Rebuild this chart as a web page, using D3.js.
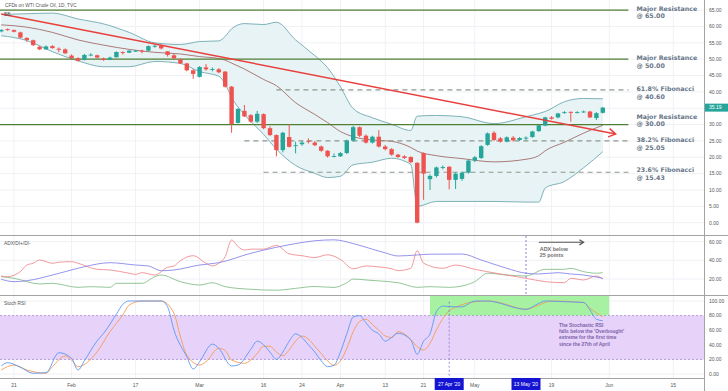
<!DOCTYPE html>
<html>
<head>
<meta charset="utf-8">
<script src="https://cdn.jsdelivr.net/npm/d3@7"></script>
<style>
  html, body { margin: 0; padding: 0; background: #fff; }
  svg { display: block; font-family: "Liberation Sans", Arial, sans-serif; }
</style>
</head>
<body>
<svg id="chart" width="728" height="391"></svg>
<script>
// ---- data ----
const candleDays = ["Jan 17","Jan 20","Jan 21","Jan 22","Jan 23","Jan 24","Jan 27","Jan 28","Jan 29","Jan 30","Jan 31",
  "Feb 3","Feb 4","Feb 5","Feb 6","Feb 7","Feb 10","Feb 11","Feb 12","Feb 13","Feb 14","Feb 17","Feb 18","Feb 19","Feb 20","Feb 21","Feb 24","Feb 25","Feb 26","Feb 27","Feb 28",
  "Mar 2","Mar 3","Mar 4","Mar 5","Mar 6","Mar 9","Mar 10","Mar 11","Mar 12","Mar 13","Mar 16","Mar 17","Mar 18","Mar 19","Mar 20","Mar 23","Mar 24","Mar 25","Mar 26","Mar 27","Mar 30","Mar 31",
  "Apr 1","Apr 2","Apr 3","Apr 6","Apr 7","Apr 8","Apr 9","Apr 13","Apr 14","Apr 15","Apr 16","Apr 17","Apr 20","Apr 21","Apr 22","Apr 23","Apr 24","Apr 27","Apr 28","Apr 29","Apr 30",
  "May 1","May 4","May 5","May 6","May 7","May 8","May 11","May 12","May 13","May 14","May 15","May 18","May 19","May 20","May 21","May 22","May 25","May 26","May 27","May 28","May 29"];
const futureDays = ["Jun 1","Jun 2","Jun 3","Jun 4","Jun 5","Jun 8","Jun 9","Jun 10","Jun 11","Jun 12","Jun 15","Jun 16","Jun 17","Jun 18","Jun 19"];

const open = [58.5,59.2,58.9,58.2,56.5,55.8,53.8,53.0,54.0,53.2,53.0,
  51.1,50.3,49.8,51.3,51.2,50.2,49.9,50.6,52.2,52.0,52.5,52.6,52.6,54.0,54.1,52.4,51.2,49.9,48.7,46.6,
  44.6,47.5,46.9,46.9,46.2,41.6,30.5,34.2,32.9,30.9,33.2,28.9,26.8,22.2,26.2,23.6,24.0,25.0,24.5,23.3,22.0,20.3,
  20.3,21.3,25.1,29.2,26.6,24.5,26.3,23.3,22.5,20.8,20.3,20.1,18.3,21.3,13.3,14.3,16.9,17.1,13.1,13.4,15.3,
  19.0,19.8,23.8,27.5,25.8,24.8,26.0,25.3,25.9,26.2,28.0,29.7,32.2,32.2,33.7,33.9,33.7,34.0,34.0,32.0,33.6];
const high = [59.1,59.4,59.1,58.4,56.7,56.0,54.1,54.2,54.3,53.6,53.3,
  51.5,50.6,51.6,51.8,51.4,50.5,50.8,52.4,52.4,52.8,52.8,52.9,54.2,54.6,54.5,52.5,51.6,50.3,48.9,47.0,
  47.9,48.5,47.5,47.3,46.4,41.8,35.0,36.0,33.2,34.2,33.4,29.5,27.0,27.8,30.2,24.8,25.0,25.8,25.0,23.6,22.2,21.2,
  21.6,25.4,29.6,29.4,27.0,26.6,28.3,23.8,22.8,21.1,20.6,20.3,18.5,21.5,14.8,17.2,17.5,17.3,15.3,15.6,19.3,
  20.4,23.7,27.6,28.0,26.2,26.4,26.5,26.2,26.4,28.1,30.0,32.4,32.6,33.6,34.1,34.0,34.1,34.3,34.2,33.8,35.4];
const low = [58.2,58.7,58.2,56.4,55.3,54.0,52.8,52.9,53.2,52.1,51.6,
  49.9,49.3,49.6,50.9,50.2,49.5,49.7,50.5,51.4,51.9,52.2,51.8,52.4,53.5,53.0,50.8,49.9,48.5,46.3,44.0,
  44.4,46.5,46.3,45.7,41.3,27.5,30.3,32.3,30.6,30.5,28.6,26.5,20.3,21.5,23.0,21.2,23.5,24.2,23.4,21.7,19.9,20.0,
  20.1,21.0,24.8,26.2,24.2,24.2,23.0,22.1,20.5,19.8,19.5,18.2,-0.2,7.0,10.0,13.8,16.3,10.2,10.3,12.8,15.0,
  18.5,19.5,23.5,25.0,24.5,24.6,24.8,25.0,25.2,26.0,27.8,29.5,31.5,31.9,33.3,30.9,33.4,33.6,32.0,31.4,33.4];
const close = [59.0,58.9,58.4,56.6,55.9,54.3,53.0,53.9,53.4,52.9,51.8,
  50.3,49.5,51.3,51.4,50.5,49.8,50.5,52.2,52.1,52.6,52.6,52.5,54.0,54.1,53.3,51.3,50.3,48.7,46.6,45.5,
  47.6,46.9,47.0,46.0,41.6,30.2,34.8,32.5,30.9,33.3,28.9,26.8,22.2,27.5,23.2,23.7,24.5,24.9,23.7,22.0,20.3,20.4,
  21.3,25.1,29.2,26.6,24.5,26.3,23.3,22.5,20.8,20.1,19.8,18.5,0.0,15.0,14.3,16.9,17.0,13.1,15.0,15.3,19.0,
  20.0,23.4,27.3,25.3,24.8,26.1,25.2,25.9,26.0,27.9,29.8,32.2,31.8,33.4,33.8,33.6,33.8,34.0,32.2,33.5,35.19];

// Bollinger bands, sampled
const bbDays = ["Jan 17","Jan 23","Jan 29","Feb 4","Feb 10","Feb 14","Feb 20","Feb 26","Mar 2","Mar 5","Mar 6","Mar 9","Mar 11","Mar 16","Mar 18","Mar 23","Mar 26","Mar 30","Apr 1","Apr 3","Apr 8","Apr 14","Apr 17","Apr 20","Apr 23","Apr 29","May 6","May 13","May 15","May 18","May 21","May 26","May 29"];
const bbUpper = [63.7,63.9,64.1,62.3,60.8,58.2,55.0,54.5,55.4,55.6,57.0,59.3,60.9,60.6,61.3,55.9,51.1,47.4,41.6,34.9,32.1,30.1,28.2,32.6,32.8,32.4,30.3,32.4,33.4,34.0,37.0,38.0,37.9];
const bbBasis = [60.5,59.8,58.2,55.9,54.3,53.0,52.1,51.6,50.8,50.2,49.7,48.8,47.0,43.8,41.9,36.7,33.1,30.6,27.9,26.3,25.3,24.9,23.0,21.9,20.5,19.6,18.6,19.4,20.5,22.0,24.6,27.4,29.8];
const bbLower = [57.2,55.7,52.3,49.5,47.7,47.7,49.3,48.7,46.2,44.8,42.4,38.3,33.1,27.0,22.5,17.5,15.1,13.8,14.2,17.7,18.5,19.7,17.8,5.0,6.5,6.5,6.5,6.3,6.3,10.6,12.6,16.8,21.7];

// ADX / DI+ / DI-
const adxLine = [["Jan 17",19.7],["Jan 21",17.2],["Jan 23",18.2],["Jan 29",24.3],["Jan 31",27.9],["Feb 5",33.2],["Feb 11",37.5],["Feb 17",35],["Feb 19",34],["Feb 21",28.9],["Feb 25",29.7],["Mar 2",35],["Mar 5",37.5],["Mar 12",47.6],["Mar 18",54],["Mar 23",58],["Mar 26",61],["Mar 31",62],["Apr 3",58],["Apr 8",52],["Apr 13",48],["Apr 15",44.7],["Apr 20",45.8],["Apr 22",46.6],["Apr 29",46.8],["May 4",40.4],["May 8",31.5],["May 13",26.2],["May 15",25.4],["May 20",26.8],["May 22",25.4],["May 26",24.3],["May 29",20.8]];
const diMinus = [["Jan 17",23.3],["Jan 20",22.5],["Jan 21",24],["Jan 22",28],["Jan 23",35],["Jan 24",36.9],["Jan 27",40.4],["Jan 29",36.9],["Jan 30",38],["Feb 3",38.6],["Feb 4",36.9],["Feb 7",30.4],["Feb 11",29.7],["Feb 14",26.2],["Feb 17",25],["Feb 18",26.8],["Feb 20",24.3],["Feb 24",32.6],["Feb 25",34],["Feb 26",39.7],["Feb 28",45],["Mar 3",36.9],["Mar 4",34],["Mar 5",36.9],["Mar 6",44],["Mar 9",61.8],["Mar 10",54.7],["Mar 11",51.1],["Mar 12",52],["Mar 16",52],["Mar 18",56],["Mar 20",47],["Mar 24",45],["Mar 26",43],["Mar 30",46],["Apr 1",41],["Apr 3",31],["Apr 7",34],["Apr 9",33],["Apr 14",31],["Apr 15",29],["Apr 17",31.5],["Apr 20",50.4],["Apr 21",36.9],["Apr 24",31.5],["Apr 28",35],["May 1",30.4],["May 7",25.4],["May 13",20.8],["May 18",17.2],["May 21",16.1],["May 22",20.8],["May 26",19],["May 28",23.3],["May 29",20]];
const diPlus = [["Jan 17",22.5],["Jan 21",20.8],["Jan 27",14.7],["Jan 29",15.4],["Feb 4",11.1],["Feb 6",11.8],["Feb 11",11.1],["Feb 12",15.4],["Feb 18",15.4],["Feb 20",22.5],["Feb 21",24.3],["Feb 26",17.2],["Mar 2",13.6],["Mar 4",16],["Mar 6",11.8],["Mar 12",9],["Mar 18",8],["Mar 23",10],["Mar 26",12],["Mar 31",11],["Apr 2",16],["Apr 3",20],["Apr 7",19],["Apr 9",18],["Apr 15",16.1],["Apr 20",11.1],["Apr 22",11.8],["Apr 27",11.1],["Apr 29",12.5],["May 1",17.2],["May 5",26.2],["May 8",24.3],["May 13",23.3],["May 18",30.4],["May 21",30.4],["May 22",31.5],["May 26",27.9],["May 28",26.2],["May 29",26.8]];

// Stochastic RSI
const stochK = [["Jan 17",11],["Jan 20",15.5],["Jan 22",9.2],["Jan 24",1],["Jan 28",1.8],["Jan 30",29.2],["Feb 3",21.5],["Feb 4",5.5],["Feb 5",18.2],["Feb 7",45.6],["Feb 10",55.7],["Feb 12",82],["Feb 13",95.5],["Feb 14",100],["Feb 21",100],["Feb 24",92],["Feb 25",60],["Feb 27",23.7],["Feb 28",6.8],["Mar 2",16.9],["Mar 4",41],["Mar 5",35.2],["Mar 9",11],["Mar 10",12.3],["Mar 12",33.8],["Mar 13",45],["Mar 16",40],["Mar 17",30],["Mar 18",20],["Mar 19",30],["Mar 20",45],["Mar 23",55],["Mar 24",50],["Mar 25",40],["Mar 26",30],["Mar 27",18],["Mar 30",10],["Mar 31",12],["Apr 1",30],["Apr 2",55],["Apr 3",78],["Apr 6",80],["Apr 7",70],["Apr 8",60],["Apr 9",55],["Apr 13",45],["Apr 14",50],["Apr 15",55.7],["Apr 17",46.6],["Apr 20",27],["Apr 21",45],["Apr 22",55],["Apr 23",85.4],["Apr 24",93],["Apr 28",92],["Apr 29",92],["May 1",100],["May 5",100],["May 7",96.8],["May 11",91.4],["May 13",88.6],["May 15",96.8],["May 18",100],["May 21",99],["May 26",98],["May 27",87.7],["May 28",75],["May 29",73]];
const stochD = [["Jan 17",5.5],["Jan 21",12.3],["Jan 23",5.5],["Jan 28",1],["Jan 29",10],["Jan 31",24.7],["Feb 3",19.2],["Feb 4",10],["Feb 7",30.6],["Feb 11",58],["Feb 13",80.8],["Feb 14",94.5],["Feb 18",100],["Feb 21",100],["Feb 25",83],["Feb 26",51],["Feb 27",26],["Mar 2",12.3],["Mar 3",16.9],["Mar 5",35.2],["Mar 6",32],["Mar 9",19.2],["Mar 11",14.7],["Mar 12",19.2],["Mar 13",28],["Mar 16",38],["Mar 17",38],["Mar 18",30],["Mar 19",25],["Mar 20",33],["Mar 23",45],["Mar 24",52],["Mar 25",48],["Mar 26",38],["Mar 27",28],["Mar 30",18],["Mar 31",12],["Apr 1",18],["Apr 2",35],["Apr 3",58],["Apr 6",72],["Apr 7",75],["Apr 8",68],["Apr 9",60],["Apr 13",52],["Apr 14",50],["Apr 15",58],["Apr 17",47.5],["Apr 20",37.4],["Apr 21",32.9],["Apr 22",42],["Apr 23",60.3],["Apr 27",86.7],["Apr 28",91.4],["May 1",99],["May 5",100],["May 7",97.7],["May 11",92.2],["May 13",88.6],["May 15",94.5],["May 19",100],["May 26",98],["May 27",90],["May 29",78.5]];

// time axis
const tickDays = ["Jan 21","Feb 3","Feb 17","Mar 2","Mar 16","Mar 24","Apr 1","Apr 13","Apr 21","May 1","May 19","Jun 1","Jun 15"];
const tickLabels = ["21","Feb","17","Mar","16","24","Apr","13","21","May","19","Jun","15"];
const badgeDays = ["Apr 27","May 13"];
const badgeLabels = ["27 Apr '20","13 May '20"];

// annotations
const resistLevels = [65.00, 50.00, 30.00];
const fibLevels = [40.60, 25.05, 15.43];
const fibNames = ["61.8% Fibonacci", "38.2% Fibonacci", "23.6% Fibonacci"];
const fibStartDays = ["Mar 18", "Mar 11", "Mar 16"];
const levelEndDay = "Jun 4";
const trendDays = ["Jan 17", "Jun 2"];
const trendPrices = [63.8, 27.1];
const lastPrice = 35.19;

// ---- layout ----
const plotRight = 704;
const svg = d3.select("#chart");
const calendar = candleDays.concat(futureDays);
const x = d3.scalePoint().domain(calendar).range([1.2, 1.2 + 6.4 * (calendar.length - 1)]);
const yMain = d3.scaleLinear().domain([0, 65]).range([222.7, 10.15]);
const yAdx = d3.scaleLinear().domain([0, 60]).range([297.7, 241.7]);
const ySto = d3.scaleLinear().domain([0, 100]).range([374, 301]);

svg.append("rect").attr("width", 728).attr("height", 391).attr("fill", "#fff");

const defs = svg.append("defs");
defs.append("clipPath").attr("id", "clipMain").append("rect").attr("x", 0).attr("y", 0).attr("width", plotRight).attr("height", 235);
defs.append("clipPath").attr("id", "clipAdx").append("rect").attr("x", 0).attr("y", 236).attr("width", plotRight).attr("height", 59);
defs.append("clipPath").attr("id", "clipSto").append("rect").attr("x", 0).attr("y", 296).attr("width", plotRight).attr("height", 82);

// grid
const grid = svg.append("g").attr("stroke", "#eff1f5").attr("stroke-width", 1);
tickDays.forEach(d => grid.append("line").attr("x1", x(d)).attr("x2", x(d)).attr("y1", 0).attr("y2", 378));
d3.range(0, 66, 5).forEach(v => grid.append("line").attr("x1", 0).attr("x2", plotRight).attr("y1", yMain(v)).attr("y2", yMain(v)));
[20, 40, 60].forEach(v => grid.append("line").attr("x1", 0).attr("x2", plotRight).attr("y1", yAdx(v)).attr("y2", yAdx(v)));
d3.range(0, 101, 20).forEach(v => grid.append("line").attr("x1", 0).attr("x2", plotRight).attr("y1", ySto(v)).attr("y2", ySto(v)));

// ---- main panel ----
const main = svg.append("g").attr("clip-path", "url(#clipMain)");

const bb = bbDays.map((d, i) => ({ d, u: bbUpper[i], m: bbBasis[i], l: bbLower[i] }));
main.append("path").datum(bb)
  .attr("fill", "#e7f3f4")
  .attr("d", d3.area().curve(d3.curveMonotoneX).x(p => x(p.d)).y0(p => yMain(p.l)).y1(p => yMain(p.u)));
const bbLine = key => d3.line().curve(d3.curveMonotoneX).x(p => x(p.d)).y(p => yMain(p[key]));
main.append("path").datum(bb).attr("fill", "none").attr("stroke", "#5f9fa8").attr("stroke-width", 0.8).attr("d", bbLine("u"));
main.append("path").datum(bb).attr("fill", "none").attr("stroke", "#5f9fa8").attr("stroke-width", 0.8).attr("d", bbLine("l"));
main.append("path").datum(bb).attr("fill", "none").attr("stroke", "#9b5a5a").attr("stroke-width", 0.8).attr("d", bbLine("m"));

// resistance and fibonacci levels
resistLevels.forEach(v => {
  main.append("line").attr("x1", 0).attr("x2", x(levelEndDay))
    .attr("y1", yMain(v)).attr("y2", yMain(v))
    .attr("stroke", "#4f7f32").attr("stroke-width", 1.3);
});
fibLevels.forEach((v, i) => {
  main.append("line").attr("x1", x(fibStartDays[i])).attr("x2", x(levelEndDay))
    .attr("y1", yMain(v)).attr("y2", yMain(v))
    .attr("stroke", "#8d988d").attr("stroke-width", 1.2).attr("stroke-dasharray", "5,4");
});

// candles
const candles = candleDays.map((d, i) => ({ d, o: open[i], h: high[i], l: low[i], c: close[i] }));
const up = "#26a69a", down = "#ef5350";
const cg = main.append("g").selectAll("g").data(candles).join("g");
cg.append("line")
  .attr("x1", p => x(p.d)).attr("x2", p => x(p.d))
  .attr("y1", p => yMain(p.h)).attr("y2", p => yMain(p.l))
  .attr("stroke", p => p.c >= p.o ? up : down).attr("stroke-width", 1);
cg.append("rect")
  .attr("x", p => x(p.d) - 2.2).attr("width", 4.4)
  .attr("y", p => yMain(Math.max(p.o, p.c)))
  .attr("height", p => Math.max(0.9, Math.abs(yMain(p.o) - yMain(p.c))))
  .attr("fill", p => p.c >= p.o ? up : down);

// trend line with open arrow head
const tx1 = x(trendDays[0]), ty1 = yMain(trendPrices[0]);
const tx2 = x(trendDays[1]), ty2 = yMain(trendPrices[1]);
main.append("line").attr("x1", tx1).attr("y1", ty1).attr("x2", tx2).attr("y2", ty2)
  .attr("stroke", "#e8403d").attr("stroke-width", 1.5);
function chevron(g, x1, y1, x2, y2, len, color, w) {
  const a = Math.atan2(y2 - y1, x2 - x1);
  const p1 = [x2 - len * Math.cos(a - 0.55), y2 - len * Math.sin(a - 0.55)];
  const p2 = [x2 - len * Math.cos(a + 0.55), y2 - len * Math.sin(a + 0.55)];
  g.append("path").attr("d", `M${p1[0]},${p1[1]}L${x2},${y2}L${p2[0]},${p2[1]}`)
    .attr("fill", "none").attr("stroke", color).attr("stroke-width", w);
}
chevron(main, tx1, ty1, tx2, ty2, 8, "#e8403d", 1.5);

// level labels
const labels = svg.append("g").attr("fill", "#687688").attr("font-weight", "bold")
  .attr("font-family", "'DejaVu Sans', Verdana, sans-serif").attr("font-size", 6.3);
function twoLine(g, xx, yy, l1, l2, gap) {
  const t = g.append("text").attr("x", xx).attr("y", yy);
  t.append("tspan").attr("x", xx).text(l1);
  t.append("tspan").attr("x", xx).attr("dy", gap).text(l2);
}
const labelX = x(levelEndDay) + 8;
const resistDy = [0.8, 0.9, -5.8];
resistLevels.forEach((v, i) => twoLine(labels, labelX, yMain(v) + resistDy[i], "Major Resistance", "@ " + v.toFixed(2), 7.4));
const fibDy = [1.4, 1.5, -0.1];
fibLevels.forEach((v, i) => twoLine(labels, labelX, yMain(v) + fibDy[i], fibNames[i], "@ " + v.toFixed(2), 7.4));

svg.append("text").attr("x", 5).attr("y", 7.3).attr("font-size", 4.8).attr("fill", "#555").text("CFDs on WTI Crude Oil, 1D, TVC");
svg.append("text").attr("x", 4).attr("y", 15.5).attr("font-size", 4.8).attr("fill", "#555").text("BB");

// ---- ADX panel ----
const adxG = svg.append("g").attr("clip-path", "url(#clipAdx)");
const adxPath = d3.line().curve(d3.curveMonotoneX).x(p => x(p[0])).y(p => yAdx(p[1]));
adxG.append("path").datum(diPlus).attr("fill", "none").attr("stroke", "#79b77c").attr("stroke-width", 0.8).attr("d", adxPath);
adxG.append("path").datum(diMinus).attr("fill", "none").attr("stroke", "#ef7f84").attr("stroke-width", 0.8).attr("d", adxPath);
adxG.append("path").datum(adxLine).attr("fill", "none").attr("stroke", "#7b78e6").attr("stroke-width", 0.8).attr("d", adxPath);
adxG.append("line").attr("x1", x("May 13")).attr("x2", x("May 13")).attr("y1", 236).attr("y2", 296)
  .attr("stroke", "#6c63c9").attr("stroke-width", 0.8).attr("stroke-dasharray", "2,2");
const arrowFrom = x("May 15"), arrowTo = x("May 26"), arrowY = yAdx(59.4);
adxG.append("line").attr("x1", arrowFrom).attr("x2", arrowTo).attr("y1", arrowY).attr("y2", arrowY)
  .attr("stroke", "#555").attr("stroke-width", 1.2);
chevron(adxG, arrowFrom, arrowY, arrowTo, arrowY, 5, "#555", 1.2);
twoLine(svg.append("g").attr("fill", "#6f6f6f").attr("font-weight", "bold").attr("font-size", 5.4),
  arrowFrom + 1, 251.3, "ADX below", "25 points", 6.1);
svg.append("text").attr("x", 4).attr("y", 245).attr("font-size", 4.8).attr("fill", "#555").text("ADX/DI+/DI-");

// ---- Stoch RSI panel ----
const stoG = svg.append("g").attr("clip-path", "url(#clipSto)");
stoG.append("rect").attr("x", 0).attr("width", plotRight)
  .attr("y", ySto(80)).attr("height", ySto(20) - ySto(80)).attr("fill", "#e7d3fa");
stoG.append("rect").attr("x", x("Apr 22")).attr("width", x("Jun 1") - x("Apr 22"))
  .attr("y", 296).attr("height", ySto(80) - 296).attr("fill", "#a6f2a2");
[80, 20].forEach(v => stoG.append("line").attr("x1", 0).attr("x2", plotRight)
  .attr("y1", ySto(v)).attr("y2", ySto(v)).attr("stroke", "#a58bd0").attr("stroke-width", 0.8).attr("stroke-dasharray", "2,2"));
const stoPath = d3.line().curve(d3.curveMonotoneX).x(p => x(p[0])).y(p => ySto(p[1]));
stoG.append("path").datum(stochD).attr("fill", "none").attr("stroke", "#f59a55").attr("stroke-width", 0.9).attr("d", stoPath);
stoG.append("path").datum(stochK).attr("fill", "none").attr("stroke", "#5b97f0").attr("stroke-width", 0.9).attr("d", stoPath);
stoG.append("line").attr("x1", x("Apr 27")).attr("x2", x("Apr 27")).attr("y1", ySto(99)).attr("y2", 378)
  .attr("stroke", "#8f6fd6").attr("stroke-width", 0.8).attr("stroke-dasharray", "2,2");
const note = svg.append("text").attr("fill", "#7b5fa6").attr("font-weight", "bold").attr("font-size", 4.9);
["The Stochastic RSI", "falls below the 'Overbought'", "extreme for the first time", "since the 27th of April"]
  .forEach((s, i) => note.append("tspan").attr("x", x("May 20") + 1).attr("y", 326.5 + i * 6.4).text(s));
svg.append("text").attr("x", 4).attr("y", 305).attr("font-size", 4.8).attr("fill", "#555").text("Stoch RSI");

// ---- frame, separators, axes ----
const frame = svg.append("g").attr("stroke", "#a3a3a3").attr("stroke-width", 1);
frame.append("line").attr("x1", 0).attr("x2", 728).attr("y1", 235.5).attr("y2", 235.5);
frame.append("line").attr("x1", 0).attr("x2", 728).attr("y1", 295.5).attr("y2", 295.5);
frame.append("line").attr("x1", 0).attr("x2", plotRight).attr("y1", 378.5).attr("y2", 378.5);
frame.append("line").attr("x1", plotRight + 0.5).attr("x2", plotRight + 0.5).attr("y1", 0).attr("y2", 391);

const ax = svg.append("g").attr("font-size", 5).attr("fill", "#555");
d3.range(0, 66, 5).forEach(v => ax.append("text").attr("x", 709).attr("y", yMain(v) + 1.8).text(v.toFixed(2)));
[20, 40, 60].forEach(v => ax.append("text").attr("x", 709).attr("y", yAdx(v) + 1.8).text(v.toFixed(2)));
d3.range(0, 101, 20).forEach(v => ax.append("text").attr("x", 709).attr("y", ySto(v) + 1.8).text(v.toFixed(2)));
tickDays.forEach((d, i) => ax.append("text").attr("x", x(d)).attr("y", 386.5).attr("text-anchor", "middle").text(tickLabels[i]));

// last price badge
svg.append("rect").attr("x", plotRight + 1).attr("y", yMain(lastPrice) - 4).attr("width", 23).attr("height", 8).attr("fill", "#26a69a");
svg.append("text").attr("x", 709).attr("y", yMain(lastPrice) + 1.8).attr("font-size", 5).attr("fill", "#fff").text(lastPrice.toFixed(2));

// date badges
badgeDays.forEach((d, i) => {
  svg.append("rect").attr("x", x(d) - 14.5).attr("y", 378).attr("width", 29).attr("height", 12).attr("fill", "#1414d2");
  svg.append("text").attr("x", x(d)).attr("y", 386.3).attr("text-anchor", "middle").attr("font-size", 5).attr("fill", "#fff").text(badgeLabels[i]);
});
</script>
</body>
</html>
